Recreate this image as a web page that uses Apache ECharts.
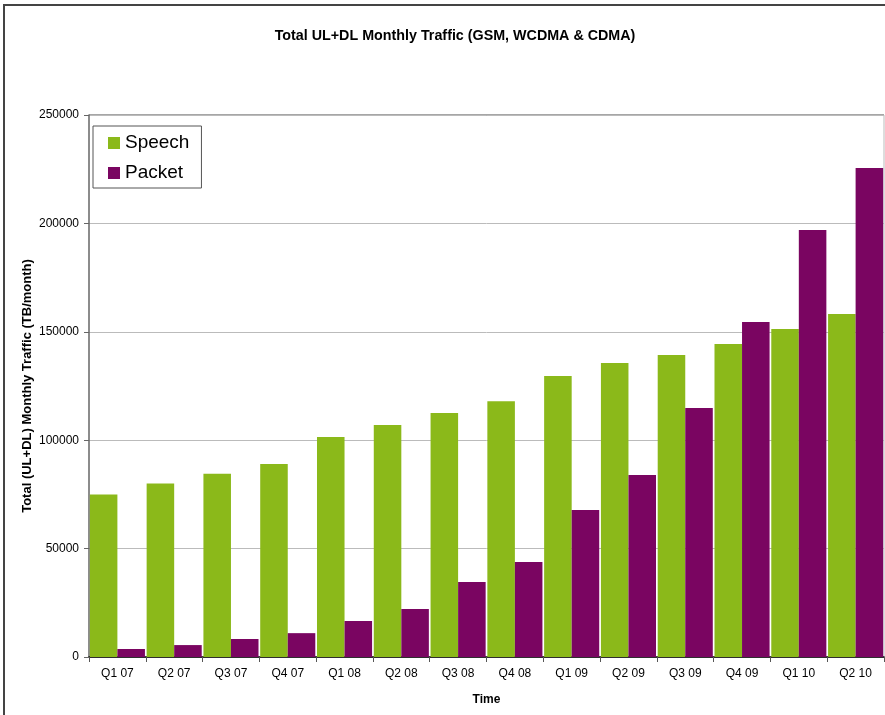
<!DOCTYPE html>
<html>
<head>
<meta charset="utf-8">
<script src="https://cdn.jsdelivr.net/npm/echarts@6/dist/echarts.min.js"></script>
<style>
  html, body { margin: 0; padding: 0; background: #fff; }
  #chart { width: 885px; height: 715px; }
</style>
</head>
<body>
<div id="chart"></div>
<script>
// quarters on the x axis
let quarters = ["Q1 07","Q2 07","Q3 07","Q4 07","Q1 08","Q2 08","Q3 08","Q4 08","Q1 09","Q2 09","Q3 09","Q4 09","Q1 10","Q2 10"]
// TB/month
let speech = [75000, 80000, 84500, 89000, 101500, 107000, 112500, 118000, 129600, 135600, 139300, 144400, 151300, 158200]
let packet = [3700, 5500, 8300, 11000, 16600, 22100, 34600, 43800, 67800, 84000, 114900, 154500, 197000, 225500]
let yTicks = [0, 50000, 100000, 150000, 200000, 250000]

let chart = echarts.init(document.getElementById("chart"))
const font = "Liberation Sans, Arial, sans-serif"
const option = {
    animation: false,
    backgroundColor: "#fff",
    title: {
        text: "Total UL+DL Monthly Traffic (GSM, WCDMA & CDMA)",
        left: 450,
        textAlign: "center",
        top: 24,
        textStyle: { fontFamily: font, fontSize: 14.3, fontWeight: "bold", color: "#000" }
    },
    graphic: [
        // outer chart frame (cut off at the right and bottom in the reference)
        { type: "rect", shape: { x: 4, y: 5, width: 900, height: 730 },
          style: { fill: "none", stroke: "#444", lineWidth: 2 }, silent: true },
        // plot area border on top and right
        { type: "line", shape: { x1: 89, y1: 115, x2: 884, y2: 115 },
          style: { stroke: "#888", lineWidth: 1.5 }, silent: true },
        { type: "line", shape: { x1: 884, y1: 115, x2: 884, y2: 657 },
          style: { stroke: "#bbb", lineWidth: 1 }, silent: true },
        // y axis title, placed by hand
        { type: "text", x: 27, y: 386, rotation: Math.PI / 2, silent: true,
          style: { text: "Total (UL+DL) Monthly Traffic (TB/month)", font: "bold 13px " + font,
                   fill: "#000", align: "center", verticalAlign: "middle" } }
    ],
    legend: {
        orient: "vertical",
        left: 93,
        top: 126,
        data: ["Speech", "Packet"],
        icon: "rect",
        itemWidth: 12,
        itemHeight: 12,
        itemGap: 10,
        itemTextGap: 4,
        borderColor: "#555",
        borderWidth: 1,
        padding: [7, 12, 5, 15],
        textStyle: { fontFamily: font, fontSize: 19, color: "#000", lineHeight: 20 }
    },
    grid: { left: 89, right: 1, top: 115, bottom: 58 },
    xAxis: {
        type: "category",
        data: quarters,
        name: "Time",
        nameLocation: "middle",
        nameGap: 37,
        nameTextStyle: { fontFamily: font, fontSize: 12, fontWeight: "bold", color: "#000" },
        axisLine: { lineStyle: { color: "#000", width: 1.5 } },
        axisTick: { show: true, length: 5, lineStyle: { color: "#555" } },
        axisLabel: { fontFamily: font, fontSize: 12, color: "#000", margin: 11, interval: 0 }
    },
    yAxis: {
        type: "value",
        min: yTicks[0],
        max: yTicks[yTicks.length - 1],
        interval: yTicks[1] - yTicks[0],
        axisLine: { show: true, lineStyle: { color: "#666", width: 1.5 } },
        axisTick: { show: true, length: 5, lineStyle: { color: "#666" } },
        axisLabel: { fontFamily: font, fontSize: 12, color: "#000", margin: 10, formatter: v => String(v) },
        splitLine: { lineStyle: { color: "#bbb", width: 1 } }
    },
    series: [
        {
            name: "Speech",
            type: "bar",
            data: speech,
            barGap: "0%",
            barCategoryGap: "3%",
            itemStyle: { color: "#8BB91A" }
        },
        {
            name: "Packet",
            type: "bar",
            data: packet,
            barGap: "0%",
            barCategoryGap: "3%",
            itemStyle: { color: "#7A0561" }
        }
    ]
}
chart.setOption(option)
</script>
</body>
</html>
